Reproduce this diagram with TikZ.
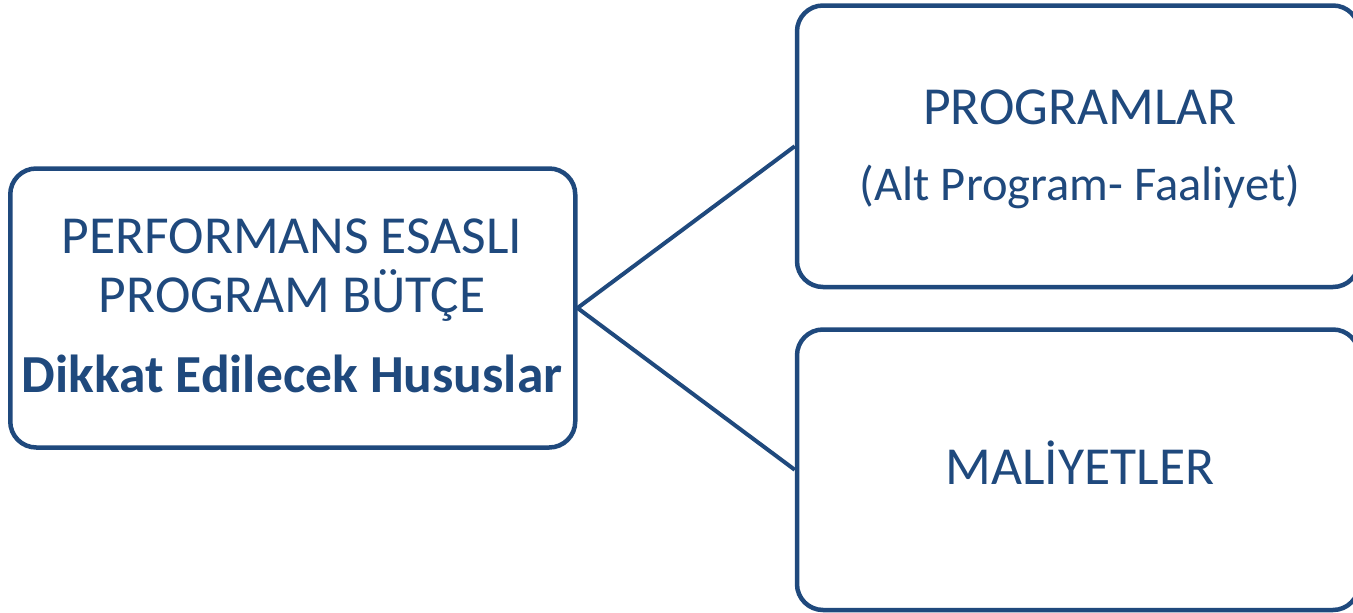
\documentclass[tikz,border=0pt]{standalone}
\usepackage{fontspec}
\setmainfont{Carlito}
\definecolor{navy}{RGB}{31,73,125}
\begin{document}
\begin{tikzpicture}[x=1pt,y=-1pt,
  box/.style={draw=navy,line width=4.5pt,rounded corners=26pt,fill=white,inner sep=0pt},
  txt/.style={text=navy,font=\fontsize{53.5}{60}\selectfont,inner sep=0pt,anchor=base},
  conn/.style={draw=navy,line width=4pt}]
\useasboundingbox (0,0) rectangle (1353,613);
\node[box,minimum width=565pt,minimum height=279pt] (main) at (292.75,308) {};
\node[box,minimum width=562pt,minimum height=281.5pt] (prog) at (1078,146.25) {};
\node[box,minimum width=562pt,minimum height=280.5pt] (mal) at (1078,469.75) {};
\draw[conn] (main.east) -- (prog.west);
\draw[conn] (main.east) -- (mal.west);
\node[txt] (t1) at (292,253) {PERFORMANS ESASLI};
\node[txt] (t2) at (292,312) {PROGRAM BÜTÇE};
\node[txt,font=\fontsize{53.5}{60}\selectfont\bfseries] (t3) at (292,392) {Dikkat Edilecek Hususlar};
\node[txt] (p1) at (1080,124) {PROGRAMLAR};
\node[txt,font=\fontsize{48.5}{58}\selectfont] (p2) at (1080,200) {(Alt Program- Faaliyet)};
\node[txt] (m1) at (1080,484) {MALİYETLER};
\end{tikzpicture}
\end{document}
